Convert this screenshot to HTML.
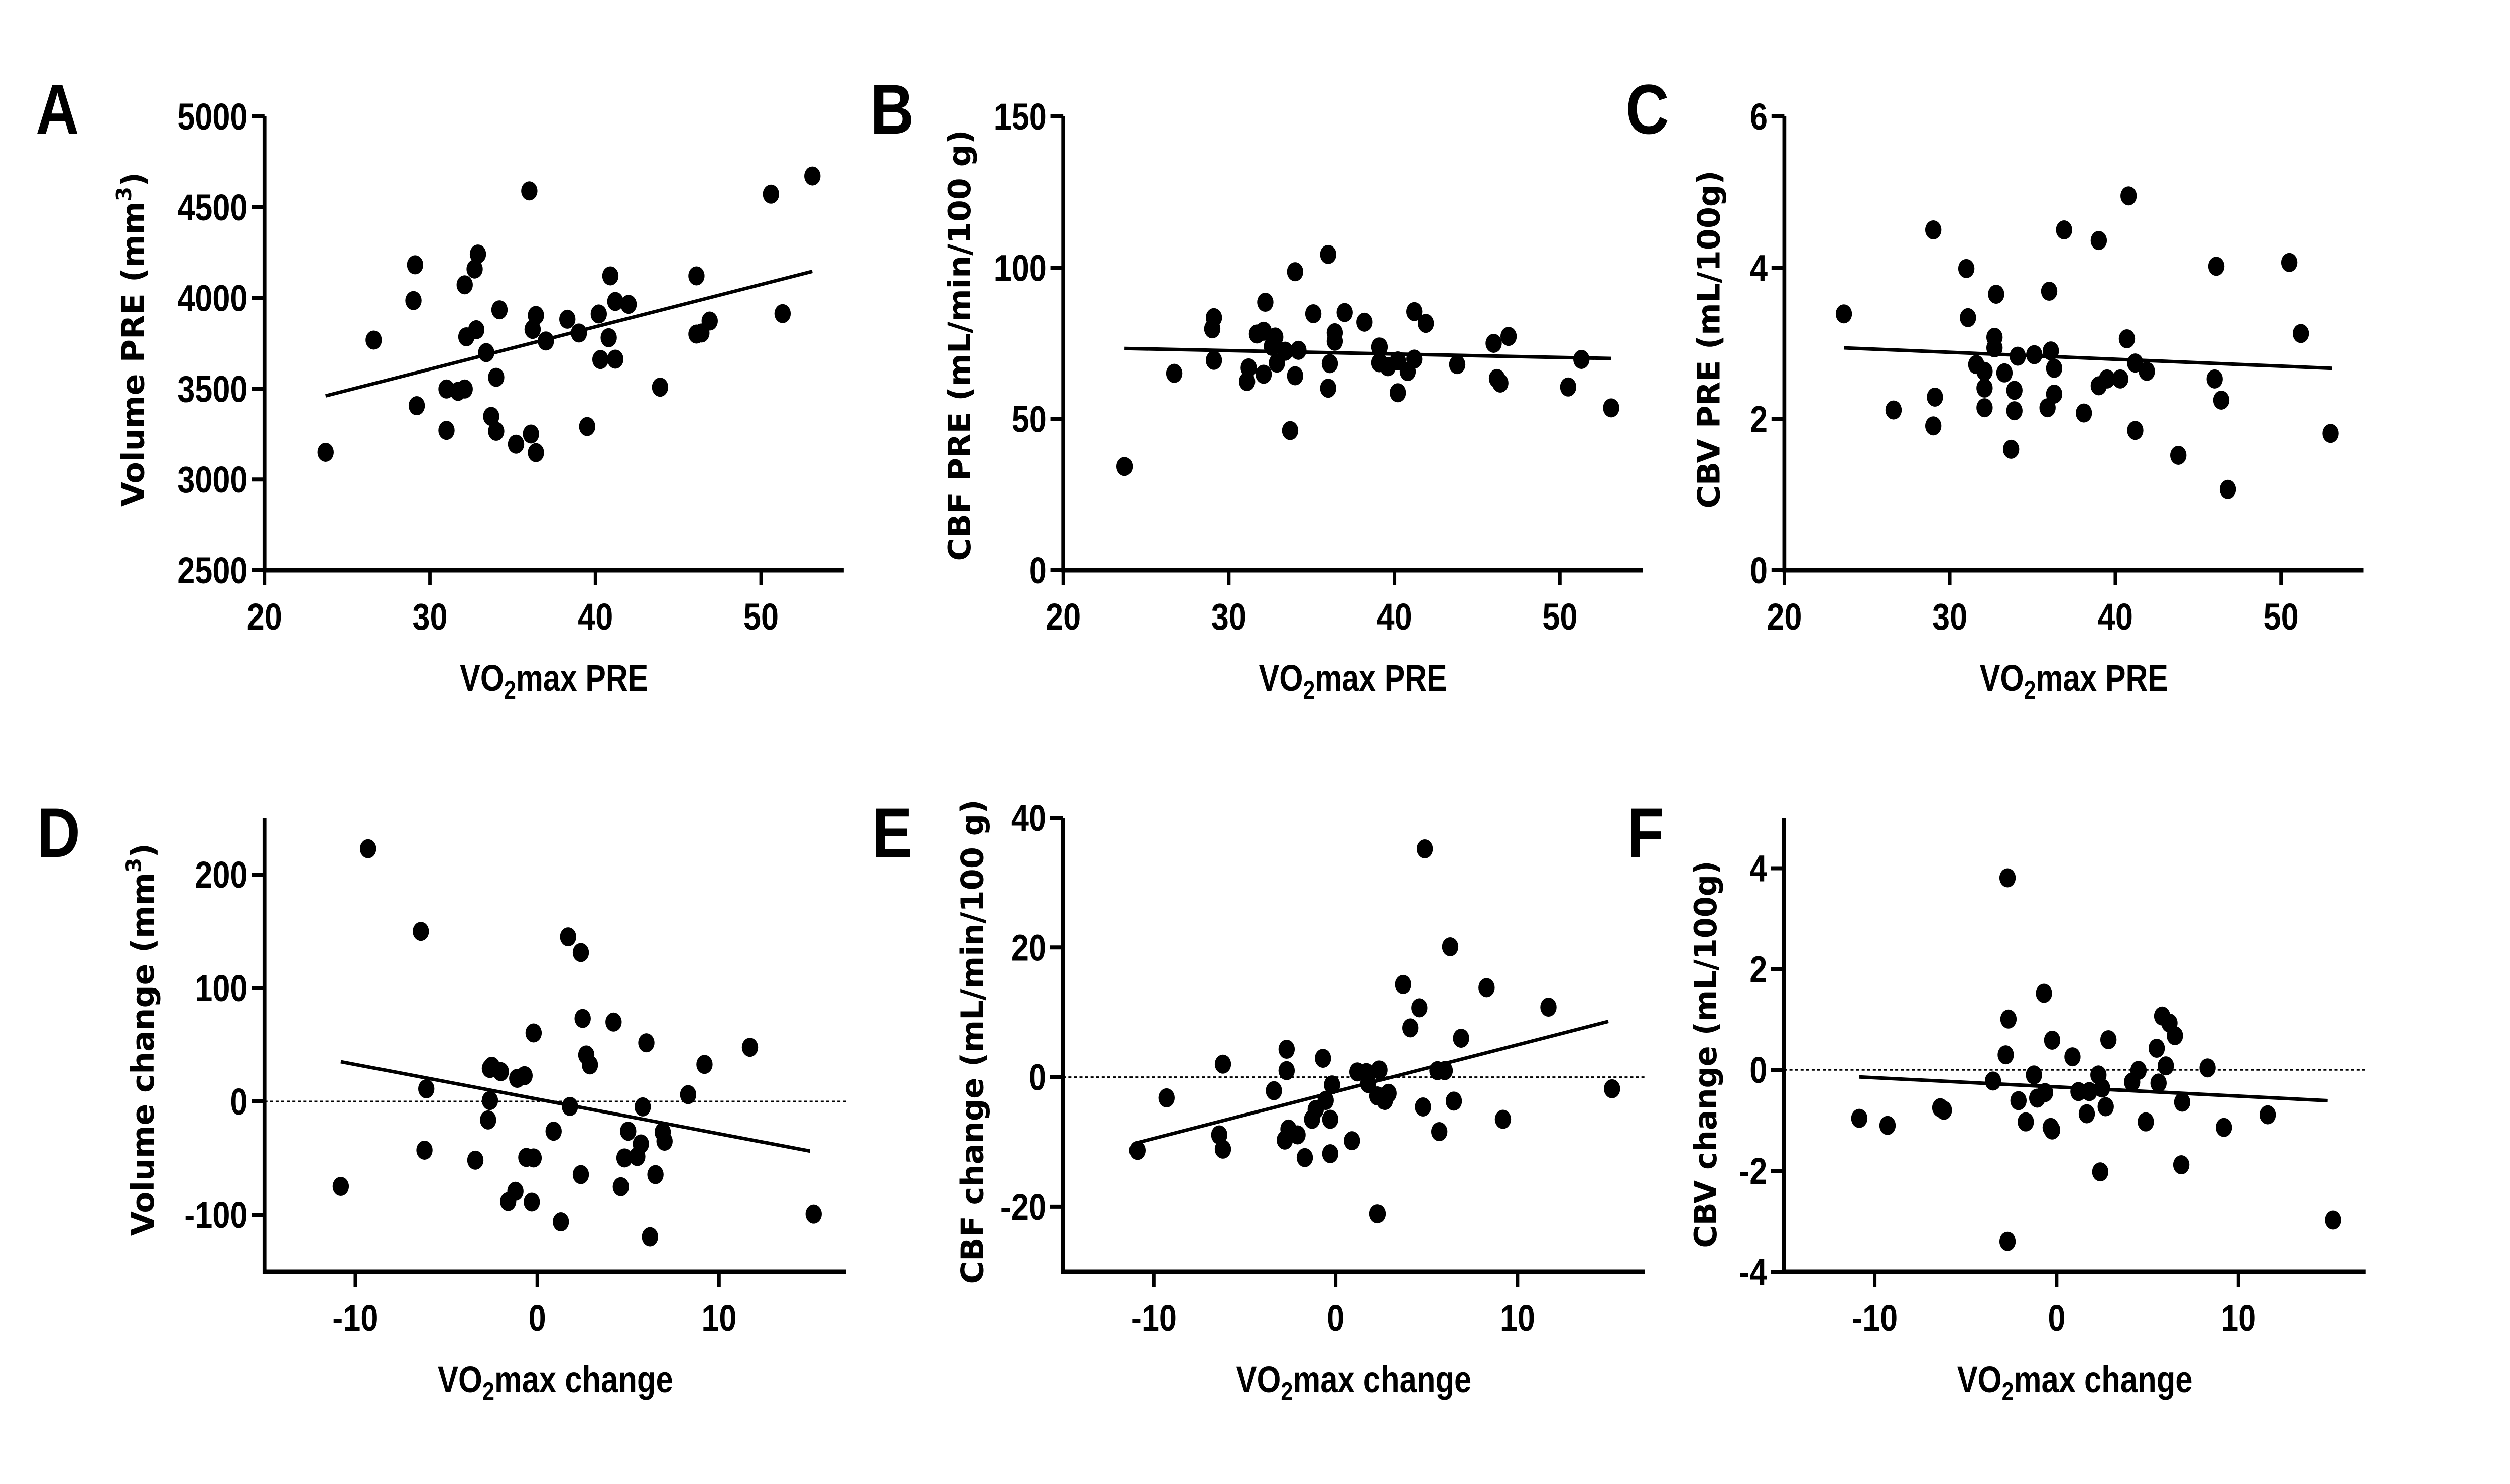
<!DOCTYPE html>
<html><head><meta charset="utf-8"><style>
html,body{margin:0;padding:0;background:#fff;overflow:hidden;width:100%;height:100%;}
svg{display:block;width:100vw;height:100vh;}
</style></head><body>
<svg id="fig" xmlns="http://www.w3.org/2000/svg" viewBox="0 0 5866 2956" preserveAspectRatio="none"></svg>
<script>
// ---- Panel A data ----
const aX=[23.7,26.6,29.1,29.0,29.2,31.0,31.0,31.7,32.1,32.1,32.2,32.7,32.8,32.9,33.4,33.7,34.0,34.0,34.2,35.2,36.0,36.1,36.2,36.4,36.4,37.0,38.3,39.0,39.5,40.2,40.3,40.9,40.8,41.2,41.2,42.0,43.9,46.1,46.1,46.4,46.9,50.6,51.3,53.1];
const aY=[3150,3768,4183,3986,3407,3271,3499,3486,3499,4073,3786,4160,3825,4242,3699,3348,3563,3266,3935,3195,4590,3251,3827,3904,3148,3763,3883,3807,3292,3912,3661,4122,3781,3663,3981,3965,3509,3801,4122,3807,3873,4572,3914,4672];
const aFitX=[23.7,53.1], aFitY=[3461,4147];
// ---- Panel B data ----
const bX=[23.7,26.7,29.1,29.0,29.1,31.1,31.2,32.1,32.2,31.7,32.1,32.8,32.9,32.6,33.4,33.7,34.0,34.0,34.2,35.1,36.0,36.0,36.1,36.4,36.4,37.0,38.2,39.1,39.1,39.6,40.2,40.2,40.8,41.2,41.2,41.9,43.8,46.0,46.2,46.4,46.9,50.5,51.3,53.1];
const bY=[34.3,65.1,83.5,79.8,69.4,62.4,66.9,64.8,88.6,78.1,79,77.1,68.5,74,72.4,46.2,64.3,98.7,72.7,84.8,104.4,60.2,68.3,78.5,75.7,85.2,82.0,73.8,68.6,67.3,58.7,69.2,65.7,85.5,69.8,81.6,68.0,75.0,63.4,61.9,77.3,60.6,69.7,53.7];
const bFitX=[23.7,53.1], bFitY=[73.3,70.0];
// ---- Panel C data ----
const cX=[23.6,26.6,29.0,29.1,29.0,31.0,31.1,31.6,32.1,32.1,32.1,32.8,32.7,32.7,33.3,33.7,33.9,33.9,34.1,35.1,36.0,35.9,36.1,36.3,36.3,36.9,38.1,39.0,39.0,39.5,40.3,40.7,40.8,41.2,41.2,41.9,43.8,46.0,46.1,46.4,46.8,50.5,51.2,53.0];
const cY=[3.39,2.12,4.50,2.29,1.91,3.99,3.34,2.72,2.63,2.41,2.15,3.65,3.08,2.94,2.61,1.60,2.38,2.11,2.83,2.85,3.69,2.15,2.90,2.67,2.33,4.50,2.08,4.36,2.44,2.53,2.53,3.06,4.95,2.74,1.85,2.63,1.52,2.53,4.02,2.25,1.07,4.07,3.13,1.81];
const cFitX=[23.6,53.1], cFitY=[2.94,2.67];
// ---- Panel D data ----
const dX=[-10.8,-9.3,-6.4,-6.1,-6.2,-3.4,-2.6,-2.5,-2.0,-2.6,-2.7,-1.6,-1.2,-1.1,-0.7,-0.6,-0.2,-0.3,-0.2,0.9,1.3,1.7,1.8,2.4,2.5,2.4,2.7,2.9,4.2,4.6,4.8,5.0,5.5,5.7,5.8,6.0,6.2,6.5,6.9,7.0,8.3,9.2,11.7,15.2];
const dY=[-74.8,222.7,149.9,11.1,-42.9,-51.7,29,31,26.2,0.8,-16.3,-88.3,-79.1,20.3,22.7,-49.3,-49.7,-88.7,60.4,-26.2,-106.2,145.1,-4.4,131.2,73.2,-64.4,41.0,32.2,70.0,-75.1,-49.7,-26.2,-48.5,-37.4,-4.8,51.7,-119.3,-64.4,-27.0,-35.0,6.0,32.6,47.7,-99.4];
const dFitX=[-10.8,15.0], dFitY=[35,-43.7];
// ---- Panel E data ----
const eX=[-10.9,-9.3,-6.4,-6.2,-6.2,-3.4,-2.7,-2.7,-2.6,-2.8,-2.1,-1.7,-1.3,-1.1,-0.7,-0.55,-0.3,-0.2,-0.3,0.9,1.2,1.7,1.8,2.4,2.3,2.3,2.7,2.9,3.7,4.1,4.6,4.8,4.9,5.6,5.7,6.0,6.3,6.5,6.9,8.3,9.2,11.7,15.2];
const eY=[-11.3,-3.2,-8.9,-11.1,2.0,-2.1,4.3,1.0,-8.0,-9.7,-8.9,-12.4,-6.5,-5.0,2.9,-3.6,-6.5,-1.2,-11.8,-9.8,0.8,0.7,-1.0,1.1,-2.9,-21.1,-3.6,-2.5,14.3,7.6,10.7,-4.6,35.2,1.0,-8.4,1.0,20.1,-3.7,6.0,13.8,-6.5,10.8,-1.8];
const eFitX=[-10.9,15.0], eFitY=[-10.1,8.6];
// ---- Panel F data ----
const fX=[-10.85,-9.3,-6.4,-6.2,-3.5,-2.8,-2.7,-2.65,-2.7,-2.1,-1.7,-1.25,-1.07,-0.64,-0.7,-0.25,-0.25,-0.33,0.87,1.2,1.66,1.8,2.3,2.5,2.4,2.7,2.85,4.15,4.5,4.9,5.5,5.6,5.8,6.0,6.2,6.5,6.9,6.85,8.3,9.2,11.6,15.2];
const fY=[-0.96,-1.10,-0.75,-0.80,-0.22,0.30,3.81,1.01,-3.40,-0.61,-1.03,-0.10,-0.56,-0.45,1.52,0.59,-1.19,-1.14,0.26,-0.43,-0.87,-0.43,-0.10,-0.36,-2.02,-0.73,0.60,-0.24,-0.01,-1.03,0.43,-0.26,1.07,0.08,0.93,0.68,-0.64,-1.88,0.04,-1.14,-0.89,-2.98];
const fFitX=[-10.85,14.9], fFitY=[-0.14,-0.61];
// ---- tick labels ----
const xTicksTop=[20,30,40,50];
const xTicksBottom=[-10,0,10];
const aTicks=[2500,3000,3500,4000,4500,5000];
const bTicks=[0,50,100,150];
const cTicks=[0,2,4,6];
const dTicks=[-100,0,100,200];
const eTicks=[-20,0,20,40];
const fTicks=[-4,-2,0,2,4];

const NS='http://www.w3.org/2000/svg';
const svg=document.getElementById('fig');
function mk(tag,attrs,parent){const e=document.createElementNS(NS,tag);for(const k in attrs)e.setAttribute(k,attrs[k]);(parent||svg).appendChild(e);return e;}
const TICKFONT='"Liberation Sans", sans-serif';
const TITLEFONT='"DejaVu Sans", "Liberation Sans", sans-serif';

function panel(o){
  const g=mk('g',{});
  
  
  const W=o.w, H=o.bottom-o.top;
  const sx=v=>o.left+(v-o.xmin)/(o.xmax-o.xmin)*W;
  const sy=v=>o.bottom-(v-o.ymin)/(o.ymax-o.ymin)*H;
  const L=mk('text',{x:o.lx,y:o.ly,'font-family':TICKFONT,'font-weight':'bold','font-size':140,'text-anchor':'middle',fill:'#000'},g);
  L.textContent=o.id;
  
  
  if(o.zero){
    const z=mk('line',{x1:o.left,x2:o.left+W,y1:sy(0),y2:sy(0),stroke:'#000','stroke-width':3,'stroke-dasharray':'7,6'},g);
    
    
  }
  const ax=mk('path',{d:`M${o.left},${o.top} L${o.left},${o.bottom} L${o.left+W},${o.bottom}`,fill:'none',stroke:'#000','stroke-width':9},g);
  
  
  o.yt.forEach(v=>{
    const y=sy(v);
    const t=mk('line',{x1:o.left-30,x2:o.left,y1:y,y2:y,stroke:'#000','stroke-width':8},g);
    
    
    const lb=mk('text',{x:o.left-39,y:y+26,'font-family':TICKFONT,'font-weight':'bold','font-size':74,'text-anchor':'end',fill:'#000'},g);
    lb.textContent=String(v);
    
    
  });
  o.xt.forEach(v=>{
    const x=sx(v);
    const t=mk('line',{x1:x,x2:x,y1:o.bottom,y2:o.bottom+30,stroke:'#000','stroke-width':8},g);
    
    
    const lb=mk('text',{x:x,y:o.bottom+118,'font-family':TICKFONT,'font-weight':'bold','font-size':74,'text-anchor':'middle',fill:'#000'},g);
    lb.textContent=String(v);
    
    
  });
  const xt=mk('text',{x:o.left+W/2,y:o.bottom+240,'font-family':TICKFONT,'font-weight':'bold','font-size':74,'text-anchor':'middle',fill:'#000',textLength:o.xtl,lengthAdjust:'spacingAndGlyphs'},g);
  xt.innerHTML='VO<tspan font-size="52" dy="16">2</tspan><tspan dy="-16">'+o.xtitle+'</tspan>';
  
  
  const cx=o.left-o.ytOff, cy=o.ytc;
  const yt=mk('text',{x:0,y:0,transform:`translate(${cx+26},${cy}) rotate(-90)`,'font-family':TITLEFONT,'font-weight':'bold','font-size':72,'text-anchor':'middle',fill:'#000',textLength:o.ytl,lengthAdjust:'spacingAndGlyphs'},g);
  yt.innerHTML=o.ytitle;
  
  
  const fl=mk('line',{x1:sx(o.fx[0]),y1:sy(o.fy[0]),x2:sx(o.fx[1]),y2:sy(o.fy[1]),stroke:'#000','stroke-width':7},g);
  
  
  o.px.forEach((v,i)=>{
    const c=mk('circle',{cx:sx(v),cy:sy(o.py[i]),r:19,fill:'#000'},g);
    
    
  });
}
const topCfg={top:232,bottom:1136,w:1354,xmin:20,xmax:55,xt:xTicksTop,xtitle:'max PRE',xtl:440,zero:false};
const botCfg={top:1629,bottom:2533,w:1360,xmin:-15,xmax:17,xt:xTicksBottom,xtitle:'max change',xtl:550,zero:true};
panel(Object.assign({},topCfg,{id:'A',left:618,ymin:2500,ymax:5000,yt:aTicks,px:aX,py:aY,fx:aFitX,fy:aFitY,lx:134,ly:266,ytOff:308,ytc:676,ytl:666,ytitle:'Volume PRE (mm<tspan font-size="48" dy="-30">3</tspan><tspan dy="30">)</tspan>'}));
panel(Object.assign({},topCfg,{id:'B',left:2485,ymin:0,ymax:150,yt:bTicks,px:bX,py:bY,fx:bFitX,fy:bFitY,lx:2085,ly:266,ytOff:243,ytc:688,ytl:859,ytitle:'CBF PRE (mL/min/100 g)'}));
panel(Object.assign({},topCfg,{id:'C',left:4170,ymin:0,ymax:6,yt:cTicks,px:cX,py:cY,fx:cFitX,fy:cFitY,lx:3850,ly:266,ytOff:177,ytc:676,ytl:673,ytitle:'CBV PRE (mL/100g)'}));
panel(Object.assign({},botCfg,{id:'D',left:618,ymin:-150,ymax:250,yt:dTicks,px:dX,py:dY,fx:dFitX,fy:dFitY,lx:137,ly:1707,ytOff:285,ytc:2071,ytl:782,ytitle:'Volume change (mm<tspan font-size="48" dy="-30">3</tspan><tspan dy="30">)</tspan>'}));
panel(Object.assign({},botCfg,{id:'E',left:2484,ymin:-30,ymax:40,yt:eTicks,px:eX,py:eY,fx:eFitX,fy:eFitY,lx:2085,ly:1707,ytOff:212,ytc:2075,ytl:965,ytitle:'CBF change (mL/min/100 g)'}));
panel(Object.assign({},botCfg,{id:'F',left:4169,ymin:-4,ymax:5,yt:fTicks,px:fX,py:fY,fx:fFitX,fy:fFitY,lx:3846,ly:1707,ytOff:184,ytc:2100,ytl:771,ytitle:'CBV change (mL/100g)'}));
</script>
</body></html>
